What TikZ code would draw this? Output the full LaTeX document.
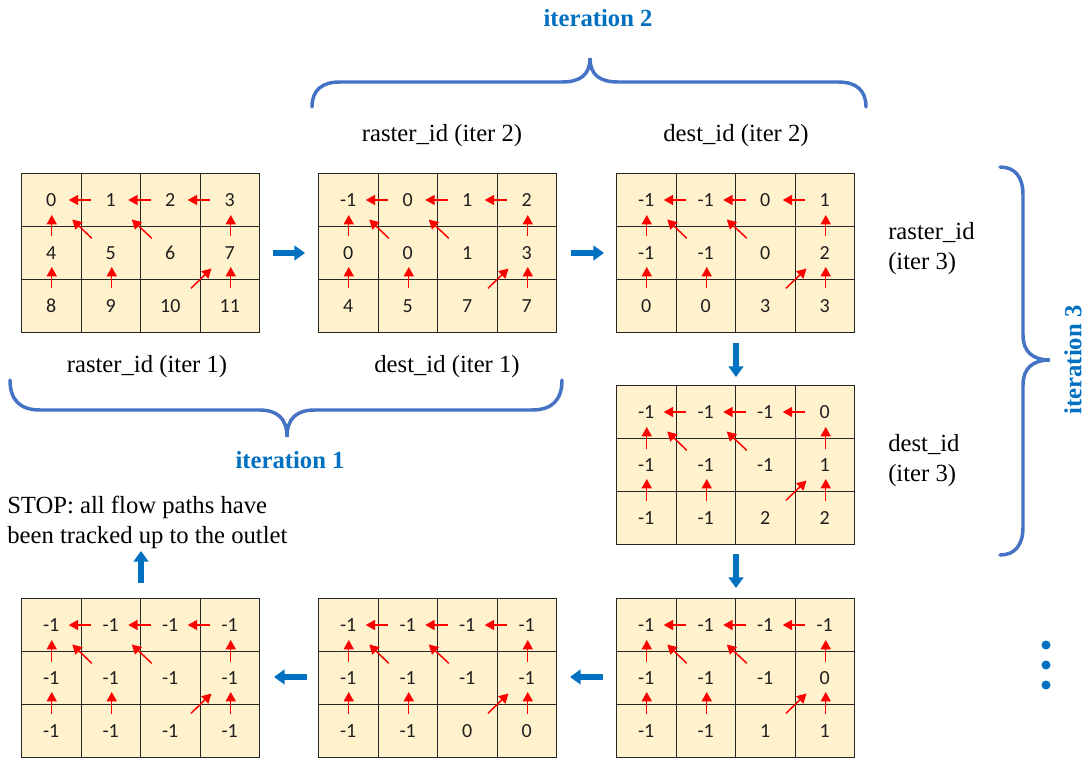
\documentclass[tikz,border=0pt]{standalone}
\usepackage{fontspec}
\setmainfont{Liberation Serif}
\newfontfamily\cellfont{Carlito}
\usetikzlibrary{arrows.meta,calc}
\definecolor{cellfill}{HTML}{FFF2CC}
\definecolor{gridline}{HTML}{262626}
\definecolor{itblue}{HTML}{0070C0}
\definecolor{bracecol}{HTML}{4472C4}
\definecolor{flowred}{HTML}{FF0000}
\tikzset{
  cell/.style={fill=cellfill, minimum width=44.625pt, minimum height=39.75pt, inner sep=0pt, font=\cellfont\fontsize{15}{17}\selectfont, text=black!88},
  gridlines/.style={draw=gridline, line width=1.05pt},
  flow/.style={draw=flowred, line width=1.1pt, -{Triangle[length=7pt,width=7.5pt]}},
  bigarrow/.style={draw=itblue, line width=4.5pt, -{Triangle[length=8pt,width=11pt]}},
  brace/.style={draw=bracecol, line width=2.6pt, line cap=round},
  lbl/.style={font=\fontsize{18.5}{22.5}\selectfont, inner sep=0pt},
  itlbl/.style={font=\bfseries\fontsize{18.5}{22.5}\selectfont, text=itblue, inner sep=0pt},
}
\newcommand\rastergrid[4]{%
  \begin{scope}[shift={(#2,#3)}]
    \foreach \v [count=\i from 0] in {#4} {
      \pgfmathtruncatemacro\rr{int(\i/4)+1}
      \pgfmathtruncatemacro\cc{mod(\i,4)+1}
      \node[cell] (#1-\rr\cc) at ({(\cc-0.5)*59.5},{(\rr-0.5)*53}) {\raisebox{-1pt}{\v}};
    }
  \end{scope}
  \draw[gridlines] (#1-11.north west) rectangle (#1-34.south east);
  \draw[gridlines] (#1-11.north east) -- (#1-31.south east)
                   (#1-12.north east) -- (#1-32.south east)
                   (#1-13.north east) -- (#1-33.south east)
                   (#1-11.south west) -- (#1-14.south east)
                   (#1-21.south west) -- (#1-24.south east);
  \draw[flow] ($(#1-12)+(-19.5,0)$) -- ($(#1-11)+(17.5,0)$);
  \draw[flow] ($(#1-13)+(-19.5,0)$) -- ($(#1-12)+(17.5,0)$);
  \draw[flow] ($(#1-14)+(-19.5,0)$) -- ($(#1-13)+(17.5,0)$);
  \draw[flow] ($(#1-21)+(0.5,-16.5)$) -- ($(#1-11)+(0.5,15)$);
  \draw[flow] ($(#1-31)+(0.5,-17.5)$) -- ($(#1-21)+(0.5,14)$);
  \draw[flow] ($(#1-32)+(1,-17.5)$) -- ($(#1-22)+(1,14)$);
  \draw[flow] ($(#1-24)+(1,-16.5)$) -- ($(#1-14)+(1,15)$);
  \draw[flow] ($(#1-34)+(1,-17.5)$) -- ($(#1-24)+(1,14)$);
  \draw[flow] ($(#1-22)+(-19,-14.7)$) -- ($(#1-11)+(21,19.5)$);
  \draw[flow] ($(#1-23)+(-18.5,-14.7)$) -- ($(#1-12)+(21,19.5)$);
  \draw[flow] ($(#1-33)+(20.75,-17.7)$) -- ($(#1-24)+(-18.25,15.5)$);
}
\begin{document}
\begin{tikzpicture}[x=0.75pt, y=-0.75pt]
\useasboundingbox (0,0) rectangle (1086,759);
% grids
\rastergrid{ga}{21.5}{173.5}{0,1,2,3,4,5,6,7,8,9,10,11}
\rastergrid{gb}{318.5}{173.5}{-1,0,1,2,0,0,1,3,4,5,7,7}
\rastergrid{gc}{616.5}{173.5}{-1,-1,0,1,-1,-1,0,2,0,0,3,3}
\rastergrid{gd}{616.5}{385.5}{-1,-1,-1,0,-1,-1,-1,1,-1,-1,2,2}
\rastergrid{ge}{616.5}{598.5}{-1,-1,-1,-1,-1,-1,-1,0,-1,-1,1,1}
\rastergrid{gf}{318.5}{598.5}{-1,-1,-1,-1,-1,-1,-1,-1,-1,-1,0,0}
\rastergrid{gg}{21.5}{598.5}{-1,-1,-1,-1,-1,-1,-1,-1,-1,-1,-1,-1}
% blue step arrows
\coordinate (s1) at (273,253); \coordinate (e1) at (305,253);
\coordinate (s2) at (571,253); \coordinate (e2) at (604,253);
\coordinate (s3) at (736,343); \coordinate (e3) at (736,377);
\coordinate (s4) at (736,554); \coordinate (e4) at (736,588);
\coordinate (s5) at (603,677); \coordinate (e5) at (570,677);
\coordinate (s6) at (307,677); \coordinate (e6) at (274,677);
\coordinate (s7) at (141,583); \coordinate (e7) at (141,551);
\draw[bigarrow] (s1) -- (e1);
\draw[bigarrow] (s2) -- (e2);
\draw[bigarrow] (s3) -- (e3);
\draw[bigarrow] (s4) -- (e4);
\draw[bigarrow] (s5) -- (e5);
\draw[bigarrow] (s6) -- (e6);
\draw[bigarrow] (s7) -- (e7);
% labels
\node[lbl] (l-r2) at (442,136) {raster\_id (iter 2)};
\node[lbl] (l-d2) at (736,136) {dest\_id (iter 2)};
\node[lbl] (l-r1) at (147,367) {raster\_id (iter 1)};
\node[lbl] (l-d1) at (447,367) {dest\_id (iter 1)};
\node[lbl, anchor=west, align=left] (l-r3) at (888,249) {raster\_id\\(iter 3)};
\node[lbl, anchor=west, align=left] (l-d3) at (888,461) {dest\_id\\(iter 3)};
\node[lbl, anchor=west, align=left] (stop) at (7,522) {STOP: all flow paths have\\been tracked up to the outlet};
\node[itlbl] (it2) at (598,18) {iteration 2};
\node[itlbl] (it1) at (290,460) {iteration 1};
\node[itlbl, rotate=90] (it3) at (1073,360) {iteration 3};
% braces
\draw[brace] (312,107) .. controls (312,90) and (322,82) .. (340,82) -- (562,82)
  .. controls (580,82) and (590,75) .. (590,58)
  .. controls (590,75) and (600,82) .. (618,82) -- (838,82)
  .. controls (856,82) and (866,90) .. (866,107);
\draw[brace] (10,380) .. controls (10,400) and (20,410) .. (40,410) -- (259,410)
  .. controls (277,410) and (287,418) .. (287,437)
  .. controls (287,418) and (297,410) .. (315,410) -- (532,410)
  .. controls (552,410) and (562,400) .. (562,380);
\draw[brace] (1000,167) .. controls (1015,167) and (1023,177) .. (1023,195) -- (1023,335)
  .. controls (1023,352) and (1033,360) .. (1050,360)
  .. controls (1033,360) and (1023,368) .. (1023,385) -- (1023,527)
  .. controls (1023,545) and (1015,555) .. (1000,555);
% continuation dots
\fill[itblue] (1046,645) circle[radius=4.5];
\fill[itblue] (1046,665) circle[radius=4.5];
\fill[itblue] (1046,685) circle[radius=4.5];
\end{tikzpicture}
\end{document}
